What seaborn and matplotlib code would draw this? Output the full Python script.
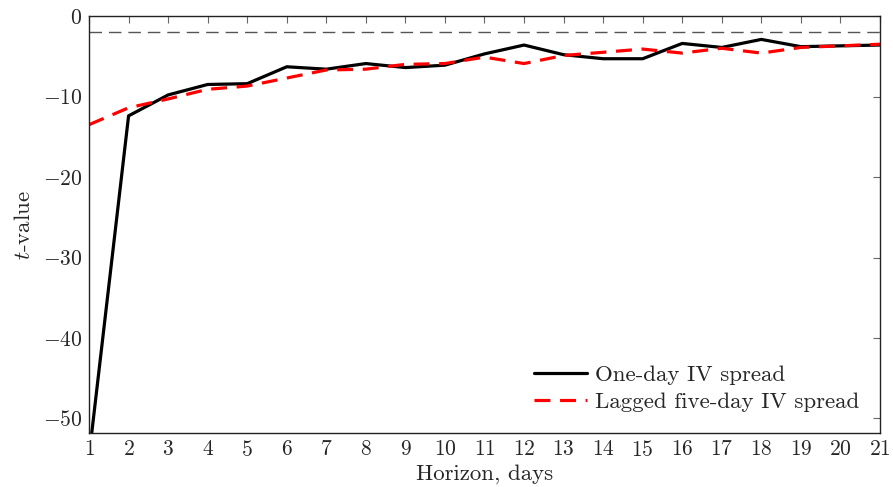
import numpy as np
import pandas as pd
import matplotlib
matplotlib.use('Agg')
import matplotlib.pyplot as plt
import seaborn as sns

horizon = list(range(1, 22))
one_day = [-54.7, -12.4, -9.8, -8.5, -8.4, -6.3, -6.6, -5.9, -6.4, -6.1, -4.7,
           -3.6, -4.8, -5.3, -5.3, -3.4, -3.9, -2.9, -3.8, -3.7, -3.6]
lagged_five = [-13.5, -11.4, -10.3, -9.1, -8.7, -7.7, -6.7, -6.6, -6.0, -5.9, -5.1,
               -5.9, -4.9, -4.5, -4.1, -4.6, -4.0, -4.6, -3.9, -3.7, -3.5]
crit = -1.96

sns.set_style('white')
plt.rcParams['font.family'] = ['cmr10', 'DejaVu Serif']
plt.rcParams['mathtext.fontset'] = 'cm'
plt.rcParams['axes.formatter.use_mathtext'] = True

df = pd.DataFrame({
    'horizon': horizon * 2,
    't': one_day + lagged_five,
    'series': ['One-day IV spread'] * 21 + ['Lagged five-day IV spread'] * 21,
})

fig = plt.figure(figsize=(8.93, 4.87), dpi=100)
ax = fig.add_axes([0.0997, 0.111, 0.8857, 0.856])

ax.axhline(crit, color='#555555', lw=1.0, dashes=(9, 5), zorder=1)
sns.lineplot(data=df, x='horizon', y='t', hue='series', style='series',
             palette={'One-day IV spread': 'black', 'Lagged five-day IV spread': 'red'},
             dashes={'One-day IV spread': '', 'Lagged five-day IV spread': (5, 3)},
             linewidth=2.3, ax=ax)

ax.set_xlim(1, 21)
ax.set_ylim(-51.8, 0)
ax.set_xticks(horizon)
ax.set_yticks([0, -10, -20, -30, -40, -50])
ax.tick_params(direction='in', top=True, right=True, length=5, width=0.8,
               color='#666666', labelsize=15.5, pad=5)
for s in ax.spines.values():
    s.set_color('#222222')
    s.set_linewidth(1.0)

ax.set_xlabel('Horizon, days', fontsize=16.5, labelpad=3)
ax.set_ylabel('$t$-value', fontsize=16.5, labelpad=6)

leg = ax.legend(loc='lower right', frameon=False, fontsize=16.5, handlelength=2.3,
                handletextpad=0.35, borderaxespad=0.5, labelspacing=0.3)

fig.savefig('out.png', dpi=100)
